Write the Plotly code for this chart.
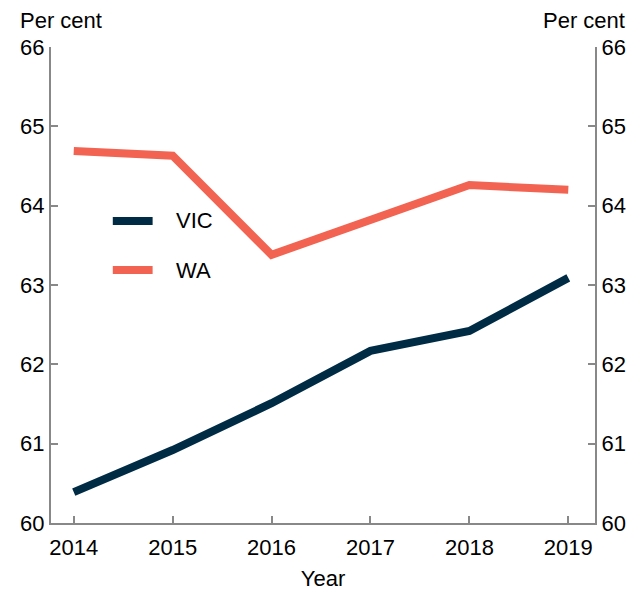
import plotly.graph_objects as go

years = [2014, 2015, 2016, 2017, 2018, 2019]
vic = [60.39, 60.92, 61.51, 62.17, 62.42, 63.09]
wa = [64.69, 64.63, 63.38, 63.82, 64.26, 64.20]
y_ticks = [60, 61, 62, 63, 64, 65, 66]
series_names = ["VIC", "WA"]

VIC_COL = "#002b45"
WA_COL = "#f26352"
AX_COL = "#888888"
FONT = "Liberation Sans, Arial, sans-serif"
FS = 22

fig = go.Figure()
fig.add_trace(go.Scatter(x=years, y=vic, mode="lines", name=series_names[0],
                         line=dict(color=VIC_COL, width=8)))
fig.add_trace(go.Scatter(x=years, y=wa, mode="lines", name=series_names[1],
                         line=dict(color=WA_COL, width=8)))
fig.add_trace(go.Scatter(x=years, y=vic, mode="lines", yaxis="y2",
                         line=dict(width=0), showlegend=False, hoverinfo="skip",
                         opacity=0))

axis_common = dict(showgrid=False, zeroline=False, showline=True, linecolor=AX_COL,
                   linewidth=2, ticks="inside", ticklen=7, tickwidth=2, tickcolor=AX_COL,
                   tickfont=dict(family=FONT, size=FS, color="#000"))

# manual legend (paper coordinates)
shapes = []
annotations = []
for name, col, ly in [(series_names[0], VIC_COL, 0.6345), (series_names[1], WA_COL, 0.5315)]:
    shapes.append(dict(type="line", xref="paper", yref="paper", x0=0.1136, x1=0.1868,
                       y0=ly, y1=ly, line=dict(color=col, width=8)))
    annotations.append(dict(text=name, xref="paper", yref="paper", x=0.227, y=ly,
                            xanchor="left", yanchor="middle", showarrow=False,
                            font=dict(family=FONT, size=FS, color="#000")))

annotations += [
    dict(text="Per cent", x=0, y=1, xref="paper", yref="paper", xanchor="left",
         yanchor="middle", xshift=-33, yshift=27, showarrow=False,
         font=dict(family=FONT, size=FS)),
    dict(text="Per cent", x=1, y=1, xref="paper", yref="paper", xanchor="right",
         yanchor="middle", xshift=32, yshift=27, showarrow=False,
         font=dict(family=FONT, size=FS)),
]

fig.update_layout(
    width=640, height=591,
    margin=dict(l=41, r=53, t=39, b=76),
    paper_bgcolor="white", plot_bgcolor="white",
    font=dict(family=FONT, color="#000"),
    xaxis=dict(range=[2013.77, 2019.27], tickvals=years, ticktext=[str(y) for y in years],
               ticklabelstandoff=4,
               title=dict(text="Year", font=dict(family=FONT, size=FS), standoff=11),
               **axis_common),
    yaxis=dict(range=[60, 66], tickvals=y_ticks, **axis_common),
    yaxis2=dict(range=[60, 66], tickvals=y_ticks, overlaying="y", side="right",
                **axis_common),
    showlegend=False,
    shapes=shapes,
    annotations=annotations,
)

fig.write_html("out.html")
